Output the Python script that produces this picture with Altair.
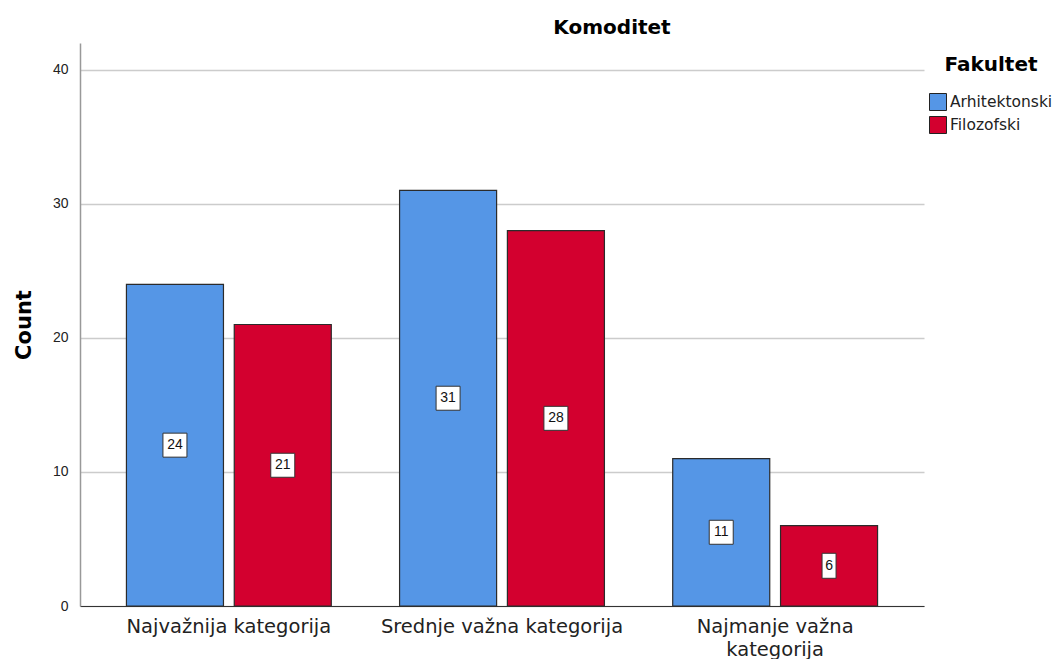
import altair as alt
import pandas as pd

categories = ["Najvažnija kategorija", "Srednje važna kategorija", "Najmanje važna kategorija"]
faculties = ["Arhitektonski", "Filozofski"]
arhitektonski = [24, 31, 11]
filozofski = [21, 28, 6]

rows = []
for c, a, f in zip(categories, arhitektonski, filozofski):
    rows.append({"kategorija": c, "Fakultet": "Arhitektonski", "count": a})
    rows.append({"kategorija": c, "Fakultet": "Filozofski", "count": f})
df = pd.DataFrame(rows)
df["half"] = df["count"] / 2

FONT = "DejaVu Sans"

x = alt.X("kategorija:N", sort=categories, title=None,
          scale=alt.Scale(paddingInner=0.25, paddingOuter=0.17),
          axis=alt.Axis(labelAngle=0, labelFontSize=19.5, labelColor="#222222", labelFont=FONT,
                        ticks=False, domainColor="#333333", domainWidth=1.2, labelPadding=11,
                        labelLimit=600,
                        labelExpr="datum.label == 'Najmanje važna kategorija' ? ['Najmanje važna', 'kategorija'] : datum.label",
                        labelLineHeight=23))
xo = alt.XOffset("Fakultet:N", sort=faculties, scale=alt.Scale(paddingInner=0.1))
color = alt.Color("Fakultet:N", sort=faculties,
                  scale=alt.Scale(domain=faculties, range=["#5596E6", "#D3002F"]),
                  legend=alt.Legend(title="Fakultet", orient="none", legendX=849, legendY=12,
                                    titleFontSize=20, titleFont=FONT, titleFontWeight="bold",
                                    titleColor="#000000", titleAnchor="middle",
                                    labelFontSize=15.5, labelFont=FONT,
                                    labelColor="#222222", symbolType="square", symbolSize=289,
                                    symbolStrokeColor="#222222", symbolStrokeWidth=1,
                                    rowPadding=1, titlePadding=18, labelOffset=3))

y_scale = alt.Scale(domain=[0, 42], nice=False)

bars = alt.Chart(df).mark_bar(stroke="#2b2b2b", strokeWidth=1.2).encode(
    x=x, xOffset=xo,
    y=alt.Y("count:Q", scale=y_scale, title="Count",
            axis=alt.Axis(values=[0, 10, 20, 30, 40], labelFontSize=14, labelFont="Liberation Sans",
                          labelColor="#222222", titleFontSize=21, titleFont=FONT,
                          titleFontWeight="bold", titleColor="#000000", titlePadding=18,
                          gridColor="#cccccc", gridWidth=1.5, domainColor="#999999",
                          domainWidth=1.5, ticks=False, labelPadding=12)),
    color=color,
)

box2 = alt.Chart(df).transform_filter("datum.count >= 10").mark_point(
    shape="M-1,-1H1V1H-1Z", size=576, filled=True, fill="white", stroke="#333333",
    strokeWidth=1, opacity=1
).encode(x=x, xOffset=xo, y=alt.Y("half:Q", scale=y_scale))

box1 = alt.Chart(df).transform_filter("datum.count < 10").mark_point(
    shape="M-0.56,-1H0.56V1H-0.56Z", size=625, filled=True, fill="white", stroke="#333333",
    strokeWidth=1, opacity=1
).encode(x=x, xOffset=xo, y=alt.Y("half:Q", scale=y_scale))

labels = alt.Chart(df).mark_text(fontSize=14, font="Liberation Sans", color="#111111", baseline="middle").encode(
    x=x, xOffset=xo, y=alt.Y("half:Q", scale=y_scale), text=alt.Text("count:Q")
)

chart = alt.layer(bars, box2, box1, labels).properties(
    width=844, height=563,
    padding={"top": 10, "left": 5, "right": 0, "bottom": 0},
    title=alt.TitleParams("Komoditet", fontSize=20, font=FONT, fontWeight="bold",
                          color="#000000", anchor="middle", dx=110, offset=5),
).configure_view(stroke=None).configure_axis(grid=True).configure_axisX(grid=False)

chart.save("out.html", embed_options={"renderer": "svg", "actions": False})
